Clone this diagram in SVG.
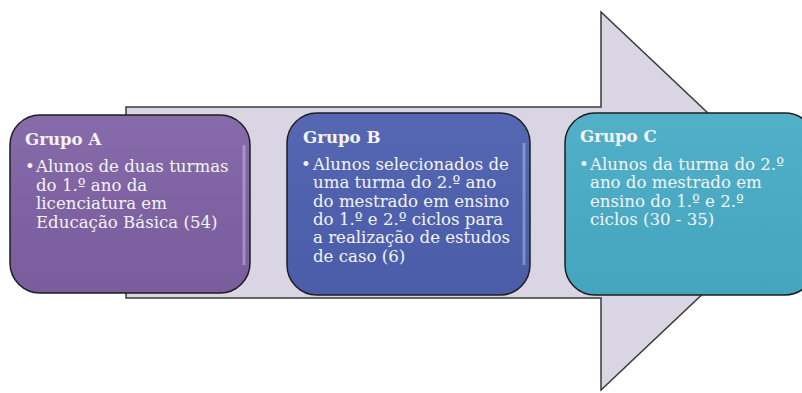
<svg xmlns="http://www.w3.org/2000/svg" width="802" height="393" viewBox="0 0 802 393">
<defs>
<style>
.box{stroke:#1e1e1e;stroke-width:1.5}
.t{font-family:"DejaVu Serif","Liberation Serif",serif;font-size:16.6px;fill:#f4f4f4}
.h{font-weight:bold}
.shine{fill:none;stroke:#ffffff;stroke-opacity:0.3;stroke-width:3}
</style>
<linearGradient id="gA" x1="0" y1="0" x2="0" y2="1"><stop offset="0" stop-color="#876bab"/><stop offset="0.5" stop-color="#7f62a2"/><stop offset="1" stop-color="#7a5d9d"/></linearGradient>
<linearGradient id="gB" x1="0" y1="0" x2="0" y2="1"><stop offset="0" stop-color="#5668b3"/><stop offset="0.5" stop-color="#4f61ad"/><stop offset="1" stop-color="#4b5ca8"/></linearGradient>
<linearGradient id="gC" x1="0" y1="0" x2="0" y2="1"><stop offset="0" stop-color="#52b0c8"/><stop offset="0.5" stop-color="#4aaac4"/><stop offset="1" stop-color="#45a4be"/></linearGradient>
</defs>
<g id="arrow">
<path d="M126,107 L601,107 L601,12 L801,201 L601,390 L601,298 L126,298 Z" fill="#d9d5e3" stroke="#3a3a3a" stroke-width="1.5"/>
</g>
<g id="grupoA">
<rect class="box" x="10" y="115" width="240" height="178" rx="30" fill="url(#gA)"/>
<path class="shine" d="M244,145 L244,265"/>
<text class="t h" x="25" y="145">Grupo A</text>
<text class="t" x="25" y="172">•</text>
<text class="t"><tspan x="36" y="172">Alunos de duas turmas</tspan><tspan x="36" y="190.5">do 1.º ano da</tspan><tspan x="36" y="209">licenciatura em</tspan><tspan x="36" y="227.5">Educação Básica (54)</tspan></text>
</g>
<g id="grupoB">
<rect class="box" x="287" y="113" width="243" height="182" rx="30" fill="url(#gB)"/>
<path class="shine" d="M524,143 L524,265"/>
<text class="t h" x="303" y="143">Grupo B</text>
<text class="t" x="301" y="170">•</text>
<text class="t"><tspan x="313" y="170">Alunos selecionados de</tspan><tspan x="313" y="188.3">uma turma do 2.º ano</tspan><tspan x="313" y="206.7">do mestrado em ensino</tspan><tspan x="313" y="225">do 1.º e 2.º ciclos para</tspan><tspan x="313" y="243.3">a realização de estudos</tspan><tspan x="313" y="261.7">de caso (6)</tspan></text>
</g>
<g id="grupoC">
<rect class="box" x="565" y="113" width="250" height="182" rx="30" fill="url(#gC)"/>
<text class="t h" x="580" y="142">Grupo C</text>
<text class="t" x="579" y="170">•</text>
<text class="t"><tspan x="590" y="170">Alunos da turma do 2.º</tspan><tspan x="590" y="188.3">ano do mestrado em</tspan><tspan x="590" y="206.7">ensino do 1.º e 2.º</tspan><tspan x="590" y="225">ciclos (30 - 35)</tspan></text>
</g>
</svg>
